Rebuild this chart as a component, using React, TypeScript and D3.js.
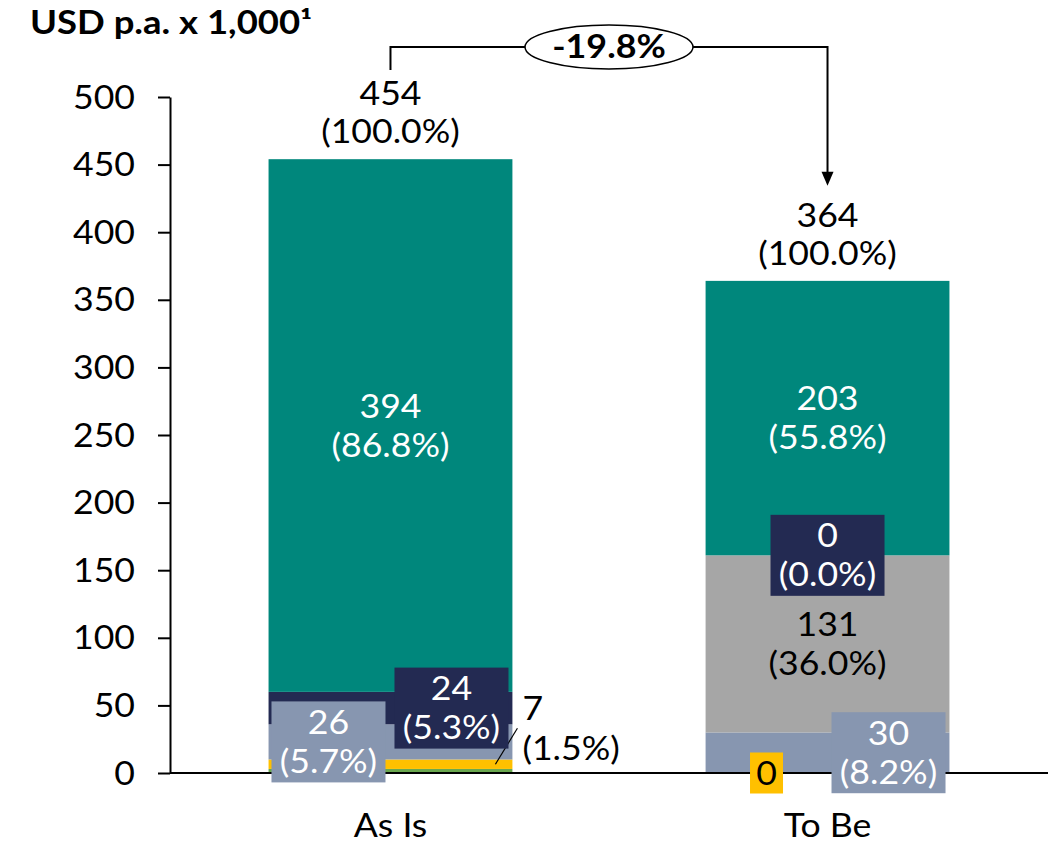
import React, { useEffect, useRef } from 'react';
import * as d3 from 'd3';

// chart data
const categories = ['As Is', 'To Be'];
const seriesKeys = ['green', 'yellow', 'lightBlue', 'grey', 'navy', 'teal'];
const greenValues = [3, 0];
const yellowValues = [7, 0];
const lightBlueValues = [26, 30];
const greyValues = [0, 131];
const navyValues = [24, 0];
const tealValues = [394, 203];
const totals = [454, 364];
const yTicks = [0, 50, 100, 150, 200, 250, 300, 350, 400, 450, 500];
const changeLabel = '-19.8%';
const yTitle = 'USD p.a. x 1,000¹';

const valuesBySeries: Record<string, number[]> = {
  green: greenValues,
  yellow: yellowValues,
  lightBlue: lightBlueValues,
  grey: greyValues,
  navy: navyValues,
  teal: tealValues,
};

const colors: Record<string, string> = {
  green: '#6aa84f',
  yellow: '#ffc000',
  lightBlue: '#8796b0',
  grey: '#a6a6a6',
  navy: '#232a52',
  teal: '#00877c',
};

// how each segment label is drawn: offset from bar centre, box or not, text colour
type LabelStyle = { dx: number; box?: string; color: string; valueOnly?: boolean; leader?: boolean };
const labelStyles: Record<string, LabelStyle> = {
  'teal|As Is': { dx: 0, color: '#fff' },
  'teal|To Be': { dx: 0, color: '#fff' },
  'navy|As Is': { dx: 61, box: colors.navy, color: '#fff' },
  'navy|To Be': { dx: 0, box: colors.navy, color: '#fff' },
  'lightBlue|As Is': { dx: -62, box: colors.lightBlue, color: '#fff' },
  'lightBlue|To Be': { dx: 61, box: colors.lightBlue, color: '#fff' },
  'grey|To Be': { dx: 0, color: '#000' },
  'yellow|As Is': { dx: 0, color: '#000', leader: true },
  'yellow|To Be': { dx: -61, box: colors.yellow, color: '#000', valueOnly: true },
};

const FONT = 'Lato, "Open Sans", sans-serif';
const FS = 33;
const SX = 1.08; // the source font renders a bit wider than Lato

// text at (x, baseline y), stretched horizontally around its anchor
function addText(parent: any, x: number, y: number, str: string, opts: any = {}) {
  return parent.append('text')
    .attr('transform', `translate(${x},${y}) scale(${opts.sx || SX},1)`)
    .attr('text-anchor', opts.anchor || 'middle')
    .attr('font-family', FONT)
    .attr('font-size', opts.size || FS)
    .attr('font-weight', opts.weight || 'normal')
    .attr('fill', opts.color || '#000')
    .text(str);
}

function StackedChart() {
  const svgRef = useRef<SVGSVGElement>(null);

  useEffect(() => {
    const svg = d3.select(svgRef.current);
    svg.selectAll('*').remove();

    const width = 1050;
    const height = 858;
    const axisX = 170;
    const right = 1048;
    const y = d3.scaleLinear().domain([0, 500]).range([773, 97]);
    const x = d3.scaleBand().domain(categories).range([axisX, right]).paddingInner(0.442).paddingOuter(0.2255);

    svg.attr('width', width).attr('height', height);

    const rows = categories.map((c, i) => {
      const o: any = { category: c };
      seriesKeys.forEach(k => (o[k] = valuesBySeries[k][i]));
      return o;
    });
    const stacked = d3.stack().keys(seriesKeys)(rows);

    // bars
    stacked.forEach(layer => {
      svg.append('g')
        .selectAll('rect')
        .data(layer)
        .enter()
        .append('rect')
        .attr('x', d => x(d.data.category as string)!)
        .attr('width', x.bandwidth())
        .attr('y', d => y(d[1]))
        .attr('height', d => y(d[0]) - y(d[1]))
        .attr('fill', colors[layer.key]);
    });

    // y axis
    const yAxis = svg.append('g')
      .attr('transform', `translate(${axisX},0)`)
      .call(d3.axisLeft(y).tickValues(yTicks).tickSize(12).tickSizeOuter(0).tickPadding(35));
    yAxis.selectAll('.tick text')
      .attr('x', null)
      .attr('dy', null)
      .attr('transform', `translate(-35,11) scale(${SX},1)`)
      .attr('font-family', FONT)
      .attr('font-size', FS)
      .attr('fill', '#000');
    yAxis.selectAll('line, path').attr('stroke', '#000').attr('stroke-width', 2);

    // x axis
    svg.append('line')
      .attr('x1', axisX).attr('x2', right)
      .attr('y1', y(0)).attr('y2', y(0))
      .attr('stroke', '#000').attr('stroke-width', 2);
    categories.forEach(c => addText(svg, x(c)! + x.bandwidth() / 2, y(0) + 64, c));

    // segment labels: two lines around the segment centre
    const twoLine = (g: any, cx: number, cy: number, l1: string, l2: string | null, color: string) => {
      if (l2 === null) {
        addText(g, cx, cy + 12, l1, { color });
      } else {
        addText(g, cx, cy - 8, l1, { color });
        addText(g, cx, cy + 31, l2, { color });
      }
    };

    const labels = svg.append('g');
    stacked.forEach(layer => {
      layer.forEach((d, i) => {
        const cat = categories[i];
        const style = labelStyles[`${layer.key}|${cat}`];
        if (!style) return;
        const v = d[1] - d[0];
        const pct = `(${((v / totals[i]) * 100).toFixed(1)}%)`;
        const cx = x(cat)! + x.bandwidth() / 2 + style.dx;
        const cy = y((d[0] + d[1]) / 2);
        if (style.leader) {
          const bx = x(cat)! + x.bandwidth();
          labels.append('line')
            .attr('x1', bx - 17).attr('y1', cy)
            .attr('x2', bx + 5).attr('y2', cy - 36)
            .attr('stroke', '#000').attr('stroke-width', 1.2);
          addText(labels, bx + 10, cy - 44, String(v), { anchor: 'start', color: style.color });
          addText(labels, bx + 10, cy - 4, pct, { anchor: 'start', color: style.color });
          return;
        }
        if (style.box) {
          const w = style.valueOnly ? 33 : 114;
          const h = style.valueOnly ? 41 : 81;
          labels.append('rect')
            .attr('x', cx - w / 2).attr('y', cy - h / 2)
            .attr('width', w).attr('height', h)
            .attr('fill', style.box);
        }
        twoLine(labels, cx, cy, String(v), style.valueOnly ? null : pct, style.color);
      });
    });

    // totals above bars
    categories.forEach((c, i) => {
      const cx = x(c)! + x.bandwidth() / 2;
      addText(svg, cx, y(totals[i]) - 54, String(totals[i]));
      addText(svg, cx, y(totals[i]) - 16, '(100.0%)');
    });

    // change bracket
    const x0 = x(categories[0])! + x.bandwidth() / 2;
    const x1 = x(categories[1])! + x.bandwidth() / 2;
    const topY = 47;
    const arrowTip = y(totals[1]) - 95;
    svg.append('path')
      .attr('d', `M${x0},70 V${topY} H${x1} V${arrowTip - 12}`)
      .attr('fill', 'none')
      .attr('stroke', '#000')
      .attr('stroke-width', 2);
    svg.append('path')
      .attr('d', `M${x1 - 6},${arrowTip - 14} L${x1 + 6},${arrowTip - 14} L${x1},${arrowTip} Z`)
      .attr('fill', '#000');
    const mx = (x0 + x1) / 2;
    svg.append('ellipse')
      .attr('cx', mx).attr('cy', topY)
      .attr('rx', 84).attr('ry', 22)
      .attr('fill', '#fff').attr('stroke', '#000').attr('stroke-width', 1.5);
    addText(svg, mx, topY + 11, changeLabel, { weight: 'bold', size: 32, sx: 1.12 });

    // title
    addText(svg, 30, 34, yTitle, { anchor: 'start', weight: 'bold', size: 32, sx: 1.14 });
  }, []);

  return <svg ref={svgRef} style={{ position: 'absolute', left: 0, top: 0, display: 'block' }} />;
}

export default function App() {
  return (
    <div>
      <StackedChart />
    </div>
  );
}
